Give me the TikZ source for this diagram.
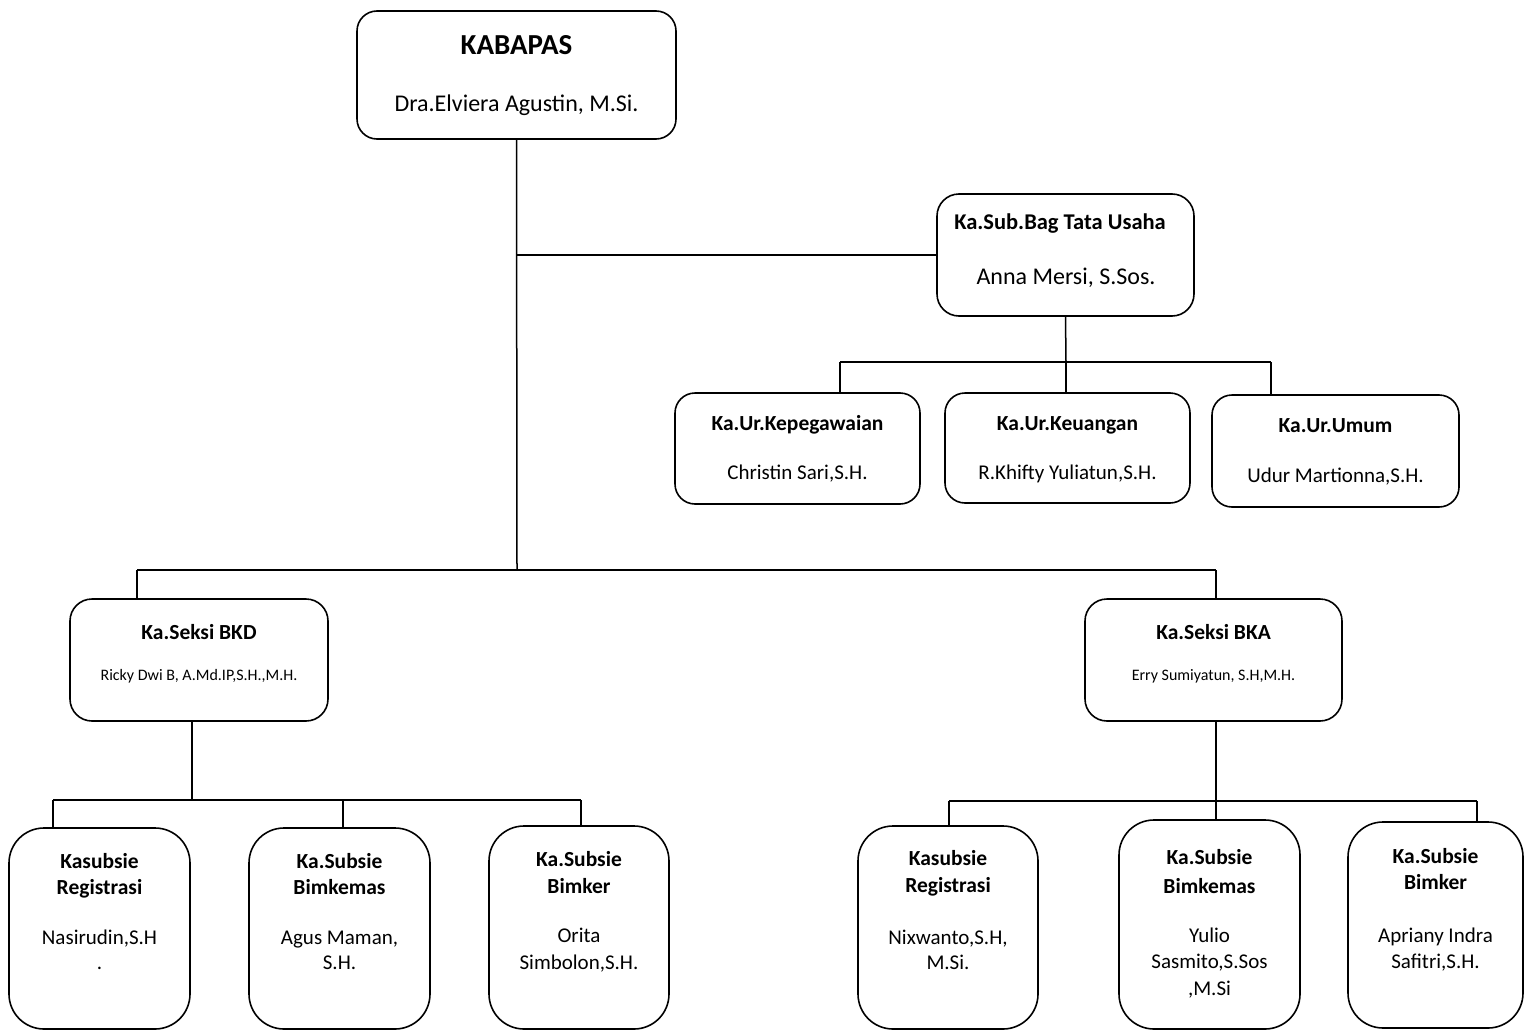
\documentclass[tikz,border=0pt]{standalone}
\usepackage{fontspec}
\setmainfont{Carlito}
\begin{document}
\begin{tikzpicture}[x=1pt,y=-1pt,
  box/.style={draw, line width=1.6pt, rounded corners=#1, inner sep=0pt},
  box/.default=20pt,
  conn/.style={line width=1.5pt},
  ttl/.style={anchor=base, font=\bfseries\fontsize{21.5}{25}\selectfont},
  nm/.style={anchor=base, font=\fontsize{21}{25}\selectfont}]
\useasboundingbox (0,0) rectangle (1525,1030);
\fill[white] (0,0) rectangle (1525,1030);
% boxes
\node[box=20pt, minimum width=319pt, minimum height=128pt] (kab) at (516.5,75) {};
\node[box=22pt, minimum width=257pt, minimum height=122pt] (tu) at (1065.5,255) {};
\node[box=20pt, minimum width=245pt, minimum height=111pt] (kep) at (797.5,448.5) {};
\node[box=20pt, minimum width=245pt, minimum height=110pt] (keu) at (1067.5,448) {};
\node[box=20pt, minimum width=247pt, minimum height=112pt] (umum) at (1335.5,451) {};
\node[box=22pt, minimum width=258pt, minimum height=122pt] (bkd) at (199,660) {};
\node[box=22pt, minimum width=257pt, minimum height=122pt] (bka) at (1213.5,660) {};
\node[box=35pt, minimum width=181pt, minimum height=201pt] (reg1) at (99.5,928.5) {};
\node[box=35pt, minimum width=181pt, minimum height=201pt] (bkm1) at (339.5,928.5) {};
\node[box=35pt, minimum width=180pt, minimum height=203pt] (bkr1) at (579,927.5) {};
\node[box=35pt, minimum width=180pt, minimum height=203pt] (reg2) at (948,927.5) {};
\node[box=35pt, minimum width=181pt, minimum height=209pt] (bkm2) at (1209.5,924.5) {};
\node[box=35pt, minimum width=175pt, minimum height=206pt] (bkr2) at (1435.5,925) {};
% connectors
\coordinate (hub) at (517,570);
\coordinate (hubL) at (137,570);
\coordinate (hubR) at (1216,570);
\draw[conn] (kab.south) -- (hub);
\draw[conn] (kab.south |- tu.west) -- (tu.west);
\coordinate (tubus) at (1066,362);
\coordinate (tuL) at (840,362);
\coordinate (tuR) at (1271,362);
\draw[conn] (tu.south) -- (tubus);
\draw[conn] (tuL) -- (tuR);
\draw[conn] (tuL) -- (tuL |- kep.north);
\draw[conn] (tubus) -- (tubus |- keu.north);
\draw[conn] (tuR) -- (tuR |- umum.north);
\draw[conn] (hubL) -- (hubR);
\draw[conn] (hubL) -- (hubL |- bkd.north);
\draw[conn] (hubR) -- (hubR |- bka.north);
\coordinate (bkdbus) at (192,800);
\coordinate (bkdL) at (53,800);
\coordinate (bkdM) at (343,800);
\coordinate (bkdR) at (581,800);
\draw[conn] (bkdbus |- bkd.south) -- (bkdbus);
\draw[conn] (bkdL) -- (bkdR);
\draw[conn] (bkdL) -- (bkdL |- reg1.north);
\draw[conn] (bkdM) -- (bkdM |- bkm1.north);
\draw[conn] (bkdR) -- (bkdR |- bkr1.north);
\coordinate (bkabus) at (1216,801);
\coordinate (bkaL) at (949,801);
\coordinate (bkaR) at (1477,801);
\draw[conn] (bkabus |- bka.south) -- (bkabus);
\draw[conn] (bkaL) -- (bkaR);
\draw[conn] (bkaL) -- (bkaL |- reg2.north);
\draw[conn] (bkabus) -- (bkabus |- bkm2.north);
\draw[conn] (bkaR) -- (bkaR |- bkr2.north);
% texts
\node[anchor=base, font=\bfseries\fontsize{29}{33}\selectfont] (t-kab) at (516.5,55) {KABAPAS};
\node[anchor=base, font=\fontsize{24}{28}\selectfont] (n-kab) at (516.5,112) {Dra.Elviera Agustin, M.Si.};
\node[anchor=base, font=\bfseries\fontsize{22.5}{26}\selectfont] (t-tu) at (1060,229) {Ka.Sub.Bag Tata Usaha};
\node[anchor=base, font=\fontsize{24}{28}\selectfont] (n-tu) at (1066,284) {Anna Mersi, S.Sos.};
\node[ttl] (t-kep) at (797.5,430) {Ka.Ur.Kepegawaian};
\node[nm] (n-kep) at (797.5,479) {Christin Sari,S.H.};
\node[ttl] (t-keu) at (1067.5,430) {Ka.Ur.Keuangan};
\node[nm] (n-keu) at (1067.5,479) {R.Khifty Yuliatun,S.H.};
\node[ttl] (t-umum) at (1335.5,432) {Ka.Ur.Umum};
\node[nm] (n-umum) at (1335.5,482) {Udur Martionna,S.H.};
\node[ttl] (t-bkd) at (199,639) {Ka.Seksi BKD};
\node[anchor=base, font=\fontsize{16}{20}\selectfont] (n-bkd) at (199,680) {Ricky Dwi B, A.Md.IP,S.H.,M.H.};
\node[ttl] (t-bka) at (1213.5,639) {Ka.Seksi BKA};
\node[anchor=base, font=\fontsize{16}{20}\selectfont] (n-bka) at (1213.5,680) {Erry Sumiyatun, S.H,M.H.};
% bottom left
\node[ttl] (t-reg1a) at (99.5,868) {Kasubsie};
\node[ttl] (t-reg1b) at (99.5,894) {Registrasi};
\node[nm] (n-reg1a) at (99.5,944) {Nasirudin,S.H};
\node[nm] (n-reg1b) at (99.5,969) {.};
\node[ttl] (t-bkm1a) at (339.5,868) {Ka.Subsie};
\node[ttl] (t-bkm1b) at (339.5,894) {Bimkemas};
\node[nm] (n-bkm1a) at (339.5,944) {Agus Maman,};
\node[nm] (n-bkm1b) at (339.5,969) {S.H.};
\node[ttl] (t-bkr1a) at (579,866) {Ka.Subsie};
\node[ttl] (t-bkr1b) at (579,893) {Bimker};
\node[nm] (n-bkr1a) at (579,942) {Orita};
\node[nm] (n-bkr1b) at (579,969) {Simbolon,S.H.};
% bottom right
\node[ttl] (t-reg2a) at (948,865) {Kasubsie};
\node[ttl] (t-reg2b) at (948,892) {Registrasi};
\node[nm] (n-reg2a) at (948,944) {Nixwanto,S.H,};
\node[nm] (n-reg2b) at (948,969) {M.Si.};
\node[ttl] (t-bkm2a) at (1209.5,864) {Ka.Subsie};
\node[ttl] (t-bkm2b) at (1209.5,893) {Bimkemas};
\node[nm] (n-bkm2a) at (1209.5,942) {Yulio};
\node[nm] (n-bkm2b) at (1209.5,968) {Sasmito,S.Sos};
\node[nm] (n-bkm2c) at (1209.5,995) {,M.Si};
\node[ttl] (t-bkr2a) at (1435.5,863) {Ka.Subsie};
\node[ttl] (t-bkr2b) at (1435.5,889) {Bimker};
\node[nm] (n-bkr2a) at (1435.5,942) {Apriany Indra};
\node[nm] (n-bkr2b) at (1435.5,968) {Safitri,S.H.};
\end{tikzpicture}
\end{document}
